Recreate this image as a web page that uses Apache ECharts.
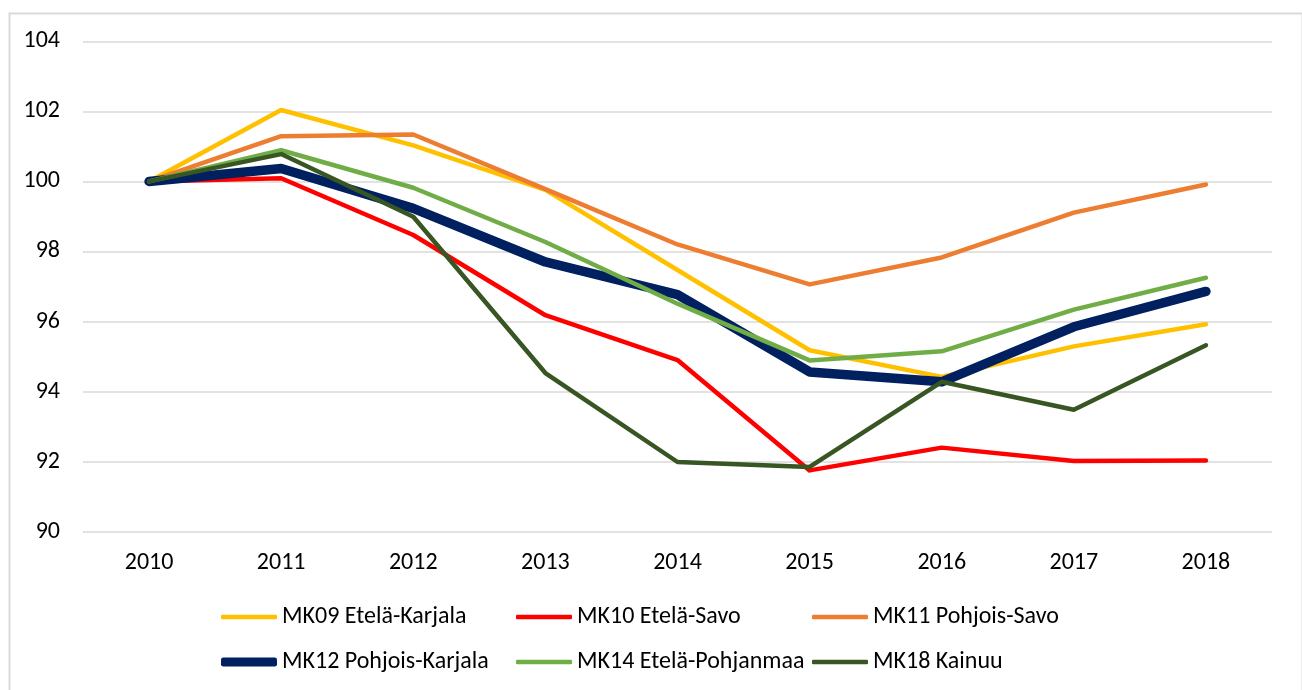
<!DOCTYPE html>
<html>
<head>
<meta charset="utf-8">
<script src="https://cdn.jsdelivr.net/npm/echarts@6/dist/echarts.min.js"></script>
<style>
html,body{margin:0;padding:0;background:#fff;}
#chart{width:1302px;height:690px;}
</style>
</head>
<body>
<div id="chart"></div>
<script>
const years = ['2010','2011','2012','2013','2014','2015','2016','2017','2018'];
const seriesNames = ['MK09 Etelä-Karjala','MK10 Etelä-Savo','MK11 Pohjois-Savo','MK12 Pohjois-Karjala','MK14 Etelä-Pohjanmaa','MK18 Kainuu'];
const mk09 = [100, 102.04, 101.03, 99.76, 97.47, 95.18, 94.42, 95.29, 95.92];
const mk10 = [100, 100.09, 98.47, 96.18, 94.90, 91.75, 92.40, 92.02, 92.03];
const mk11 = [100, 101.29, 101.34, 99.78, 98.20, 97.06, 97.83, 99.11, 99.91];
const mk12 = [100, 100.37, 99.23, 97.70, 96.77, 94.56, 94.28, 95.85, 96.86];
const mk14 = [100, 100.89, 99.82, 98.27, 96.51, 94.89, 95.15, 96.34, 97.25];
const mk18 = [100, 100.78, 98.99, 94.53, 91.99, 91.85, 94.28, 93.48, 95.32];
const yTicks = { min: 90, max: 104, interval: 2 };

const values = [mk09, mk10, mk11, mk12, mk14, mk18];
const colors = ['#FFC000', '#FF0000', '#ED7D31', '#002060', '#70AD47', '#375623'];
const widths = [4.5, 4.5, 4.5, 9.5, 4.5, 4.5];
const FONT = 'Carlito, Lato, sans-serif';
const FS = 24;

const legendPos = [
  {left: 221, top: 605}, {left: 516, top: 605}, {left: 812, top: 605},
  {left: 221, top: 650}, {left: 516, top: 650}, {left: 812, top: 650}
];

const chart = echarts.init(document.getElementById('chart'), null, {renderer: 'canvas'});
chart.setOption({
  animation: false,
  backgroundColor: '#ffffff',
  graphic: [{
    type: 'rect', left: 7, top: 11, z: -10,
    shape: {width: 1293, height: 700},
    style: {fill: 'none', stroke: '#d9d9d9', lineWidth: 2}
  }],
  grid: {left: 83, right: 30, top: 41.3, bottom: 158.3, containLabel: false},
  legend: seriesNames.map((n, i) => ({
    data: [n],
    left: legendPos[i].left,
    top: legendPos[i].top,
    icon: 'roundRect',
    itemWidth: 56,
    itemHeight: widths[i] > 5 ? 9 : 4.5,
    itemGap: 0,
    padding: 0,
    selectedMode: false,
    textStyle: {fontFamily: FONT, fontSize: FS, color: '#000'}
  })),
  xAxis: {
    type: 'category',
    data: years,
    boundaryGap: true,
    axisLine: {show: false},
    axisTick: {show: false},
    axisLabel: {fontFamily: FONT, fontSize: FS, color: '#000', margin: 19.5}
  },
  yAxis: {
    type: 'value',
    min: yTicks.min, max: yTicks.max, interval: yTicks.interval,
    axisLine: {show: false},
    axisTick: {show: false},
    axisLabel: {fontFamily: FONT, fontSize: FS, color: '#000', margin: 23},
    splitLine: {lineStyle: {color: '#d9d9d9', width: 1.5}}
  },
  series: seriesNames.map((n, i) => ({
    name: n,
    type: 'line',
    data: values[i],
    symbol: 'none',
    color: colors[i],
    lineStyle: {color: colors[i], width: widths[i], cap: 'round', join: 'round'},
    z: 2 + i
  }))
});
</script>
</body>
</html>
